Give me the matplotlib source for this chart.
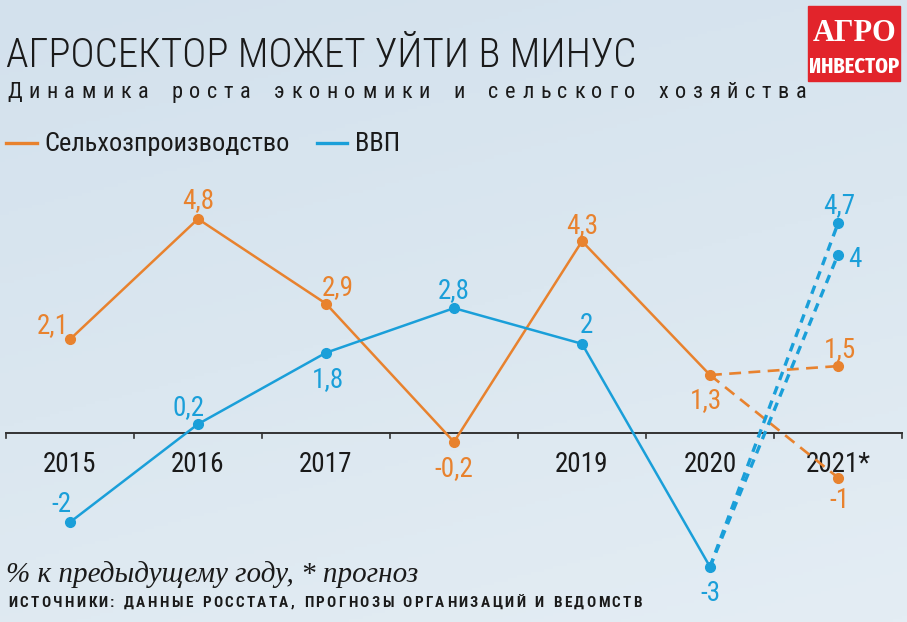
import matplotlib
matplotlib.use("Agg")
import matplotlib.pyplot as plt
import numpy as np
from matplotlib.colors import LinearSegmentedColormap

# data
years = ['2015', '2016', '2017', '2018', '2019', '2020', '2021*']
year_labels = ['2015', '2016', '2017', '', '2019', '2020', '2021*']
agri = [2.1, 4.8, 2.9, -0.2, 4.3, 1.3]
gdp = [-2, 0.2, 1.8, 2.8, 2.0, -3]
agri_fc = [1.5, -1]
gdp_fc = [4.7, 4]

ORANGE = '#e8822e'
BLUE = '#1a9fd9'
BG = '#d6e3ee'
INK = '#1a1a1a'

COND = 'Roboto Condensed'
SERIF = 'Liberation Serif'

W, H = 907, 622
fig = plt.figure(figsize=(W / 100, H / 100), dpi=100)
fig.patch.set_facecolor(BG)


def fx(px):
    return px / W


def fy(py):
    return 1 - py / H


# background gradient
bg = fig.add_axes([0, 0, 1, 1], zorder=0)
cmap = LinearSegmentedColormap.from_list('bg', ['#d3e1ed', '#dbe7f0', '#e4edf4'])
gy, gx = np.mgrid[0:1:200j, 0:1:200j]
bg.imshow(gy * 0.8 + gx * 0.3, cmap=cmap, aspect='auto', extent=[0, 1, 0, 1])
bg.axis('off')

# main axes mapped onto the whole figure
ax = fig.add_axes([0, 0, 1, 1], zorder=1)
ax.patch.set_alpha(0)
px_x, step = 70, 128
y0, unit = 433, 44.6
ax.set_xlim(-px_x / step, (W - px_x) / step)
ax.set_ylim((y0 - H) / unit, y0 / unit)
ax.axis('off')

x = np.arange(len(years))

# axis line with ticks between categories
ax.plot([-0.5, len(years) - 0.5], [0, 0], color='#333333', lw=1.4, zorder=2)
for b in np.arange(-0.5, len(years), 1.0):
    ax.plot([b, b], [0, -5 / unit], color='#333333', lw=1.2, zorder=2)
for i, lab in enumerate(year_labels):
    if lab:
        ax.text(i, -18 / unit, lab, ha='center', va='top', fontsize=19.5,
                family=COND, weight='normal', color=INK)

# lines
ax.plot(x[:6], agri, color=ORANGE, lw=1.8, zorder=3)
ax.plot(x[:6], agri, 'o', color=ORANGE, ms=7, zorder=4)
ax.plot(x[:6], gdp, color=BLUE, lw=1.8, zorder=3)
ax.plot(x[:6], gdp, 'o', color=BLUE, ms=7, zorder=4)

for v in agri_fc:
    ax.plot([x[5], x[6]], [agri[5], v], color=ORANGE, lw=1.9,
            dashes=(4.5, 2.8), zorder=3)
    ax.plot([x[6]], [v], 'o', color=ORANGE, ms=7, zorder=4)
for v in gdp_fc:
    ax.plot([x[5], x[6]], [gdp[5], v], color=BLUE, lw=2.4,
            dashes=(2.6, 2.0), zorder=3)
    ax.plot([x[6]], [v], 'o', color=BLUE, ms=7, zorder=4)

# value labels (offsets in pixels)
agri_off = [(-17, 17), (0, 21), (12, 19), (0, -24), (0, 19), (-4, -23)]
gdp_off = [(-9, 21), (-10, 20), (2, -24), (0, 21), (4, 21), (0, -24)]
agri_fc_off = [(2, 20), (2, -20)]
gdp_fc_off = [(1, 21), (17, -2)]


def fmt(v):
    return ('%g' % v).replace('.', ',')


def label(xi, v, off, color):
    ax.annotate(fmt(v), (xi, v), xytext=off, textcoords='offset pixels',
                ha='center', va='center_baseline', fontsize=19.5, family=COND,
                weight='normal', color=color, zorder=5)


for i, v in enumerate(agri):
    label(x[i], v, agri_off[i], ORANGE)
for i, v in enumerate(gdp):
    label(x[i], v, gdp_off[i], BLUE)
for v, o in zip(agri_fc, agri_fc_off):
    label(x[6], v, o, ORANGE)
for v, o in zip(gdp_fc, gdp_fc_off):
    label(x[6], v, o, BLUE)

# titles
fig.text(fx(6), fy(67), 'АГРОСЕКТОР МОЖЕТ УЙТИ В МИНУС', fontsize=29.5,
         family=COND, weight=300, color=INK, va='baseline', ha='left')

renderer = fig.canvas.get_renderer()


def spaced(px, end_px, py, s, word_extra, **kw):
    # letter-spaced text, stretched so it ends at end_px
    items = []
    for ch in s:
        if ch == ' ':
            items.append(None)
            continue
        t = fig.text(0, fy(py), ch, ha='left', va='baseline', **kw)
        items.append((t, t.get_window_extent(renderer).width))
    glyphs = [it for it in items if it is not None]
    n_sp = items.count(None)
    total = sum(w for _, w in glyphs)
    gap = (end_px - px - total - word_extra * n_sp) / (len(glyphs) - 1)
    cur = px
    for it in items:
        if it is None:
            cur += word_extra
            continue
        t, w = it
        t.set_x(fx(cur))
        cur += w + gap


spaced(7, 806, 98, 'Динамика роста экономики и сельского хозяйства', 17,
       fontsize=16, family=COND, weight='normal', color=INK)

# legend
fig.add_artist(plt.Line2D([fx(6), fx(37)], [fy(143), fy(143)], color=ORANGE, lw=2.4))
fig.text(fx(44), fy(151), 'Сельхозпроизводство', fontsize=19, family=COND,
         weight='normal', color=INK, va='baseline')
fig.add_artist(plt.Line2D([fx(317), fx(347)], [fy(143), fy(143)], color=BLUE, lw=2.4))
fig.text(fx(355), fy(151), 'ВВП', fontsize=19, family=COND, weight='normal',
         color=INK, va='baseline')

# notes
fig.text(fx(6), fy(582), '% к предыдущему году, * прогноз', fontsize=21,
         family=SERIF, style='italic', color=INK, va='baseline')
spaced(8, 642, 607, 'ИСТОЧНИКИ: ДАННЫЕ РОССТАТА, ПРОГНОЗЫ ОРГАНИЗАЦИЙ И ВЕДОМСТВ', 7,
       fontsize=11, family=COND, weight='bold', color=INK)

# logo
fig.add_artist(plt.Rectangle((fx(808), fy(81)), fx(92), 75 / H, color='#e2242b',
                             transform=fig.transFigure, zorder=6))
fig.text(fx(855), fy(41), 'АГРО', fontsize=22, family=SERIF, weight='bold',
         color='white', ha='center', va='baseline', zorder=7)
fig.text(fx(854), fy(73), 'ИНВЕСТОР', fontsize=16, family='Fira Sans Extra Condensed',
         weight='bold', color='white', ha='center', va='baseline', zorder=7)

fig.savefig('out.png', dpi=100, facecolor=fig.get_facecolor())
